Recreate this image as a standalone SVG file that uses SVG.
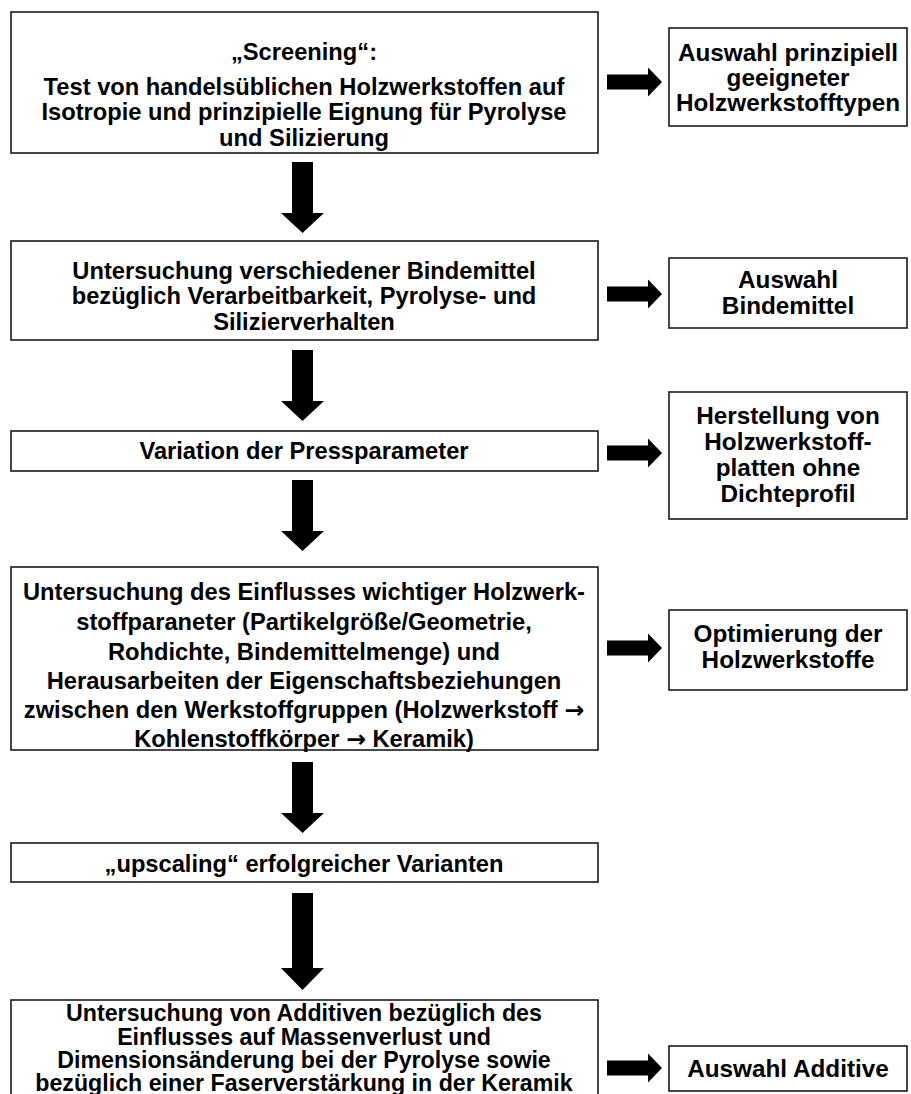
<svg xmlns="http://www.w3.org/2000/svg" width="911" height="1094" viewBox="0 0 911 1094">
<style>
.box{fill:#fff;stroke:#1a1a1a;stroke-width:1.6}
.t{font-family:"Liberation Sans",Arial,sans-serif;font-weight:bold;font-size:23.7px;fill:#000;text-anchor:middle}
.r{font-size:24.3px}
.s{font-size:23.2px}
.a{font-family:"DejaVu Sans",sans-serif;font-weight:bold}
.arr{fill:#000}
</style>
<defs>
<path id="down" d="M-10.5,0 H10.5 V51 H21.5 L0,71 L-21.5,51 H-10.5 Z"/>
<path id="right" d="M0,-7.5 H41 V-14.5 L55,0 L41,14.5 V7.5 H0 Z"/>
</defs>
<rect width="911" height="1094" fill="#fff"/>
<g id="n1"><rect class="box" x="11" y="12" width="587" height="141"/>
<text class="t" x="304" y="60">„Screening“:</text>
<text class="t" x="304" y="95">Test von handelsüblichen Holzwerkstoffen auf</text>
<text class="t" x="304" y="120">Isotropie und prinzipielle Eignung für Pyrolyse</text>
<text class="t" x="304" y="146">und Silizierung</text></g>
<g id="r1"><rect class="box" x="669" y="28" width="238" height="98"/>
<text class="t r" x="788" y="61">Auswahl prinzipiell</text>
<text class="t r" x="788" y="86">geeigneter</text>
<text class="t r" x="788" y="111">Holzwerkstofftypen</text></g>
<g id="n2"><rect class="box" x="11" y="241" width="587" height="99"/>
<text class="t" x="304" y="279">Untersuchung verschiedener Bindemittel</text>
<text class="t" x="304" y="304">bezüglich Verarbeitbarkeit, Pyrolyse- und</text>
<text class="t" x="304" y="330">Silizierverhalten</text></g>
<g id="r2"><rect class="box" x="669" y="258" width="238" height="70"/>
<text class="t r" x="788" y="288">Auswahl</text>
<text class="t r" x="788" y="314">Bindemittel</text></g>
<g id="n3"><rect class="box" x="11" y="431" width="587" height="40"/>
<text class="t" x="304" y="459">Variation der Pressparameter</text></g>
<g id="r3"><rect class="box" x="669" y="392" width="238" height="127"/>
<text class="t r" x="788" y="424">Herstellung von</text>
<text class="t r" x="788" y="450">Holzwerkstoff-</text>
<text class="t r" x="788" y="476">platten ohne</text>
<text class="t r" x="788" y="502">Dichteprofil</text></g>
<g id="n4"><rect class="box" x="11" y="567" width="587" height="183"/>
<text class="t" x="304" y="600">Untersuchung des Einflusses wichtiger Holzwerk-</text>
<text class="t" x="304" y="630">stoffparaneter (Partikelgröße/Geometrie,</text>
<text class="t" x="304" y="660">Rohdichte, Bindemittelmenge) und</text>
<text class="t" x="304" y="689">Herausarbeiten der Eigenschaftsbeziehungen</text>
<text class="t" x="304" y="718">zwischen den Werkstoffgruppen (Holzwerkstoff <tspan class="a">→</tspan></text>
<text class="t" x="304" y="747">Kohlenstoffkörper <tspan class="a">→</tspan> Keramik)</text></g>
<g id="r4"><rect class="box" x="669" y="610" width="238" height="80"/>
<text class="t r" x="788" y="642">Optimierung der</text>
<text class="t r" x="788" y="668">Holzwerkstoffe</text></g>
<g id="n5"><rect class="box" x="11" y="843" width="587" height="39"/>
<text class="t" x="304" y="872">„upscaling“ erfolgreicher Varianten</text></g>
<g id="n6"><rect class="box" x="11" y="1000" width="587" height="100"/>
<text class="t s" x="304" y="1021">Untersuchung von Additiven bezüglich des</text>
<text class="t s" x="304" y="1045">Einflusses auf Massenverlust und</text>
<text class="t s" x="304" y="1068">Dimensionsänderung  bei der Pyrolyse sowie</text>
<text class="t s" x="304" y="1091">bezüglich einer Faserverstärkung in der Keramik</text></g>
<g id="r6"><rect class="box" x="669" y="1046" width="238" height="45"/>
<text class="t r" x="788" y="1077">Auswahl Additive</text></g>
<g id="connectors" class="arr">
<use href="#down" x="302.5" y="162"/>
<use href="#down" x="302.5" y="350"/>
<use href="#down" x="302.5" y="480"/>
<use href="#down" x="302.5" y="762"/>
<path d="M292,893 H313 V968 H324 L302.5,990 L281,968 H292 Z"/>
<use href="#right" x="607" y="82"/>
<use href="#right" x="607" y="294"/>
<use href="#right" x="607" y="453"/>
<use href="#right" x="607" y="648"/>
<use href="#right" x="607" y="1068"/>
</g>
</svg>
